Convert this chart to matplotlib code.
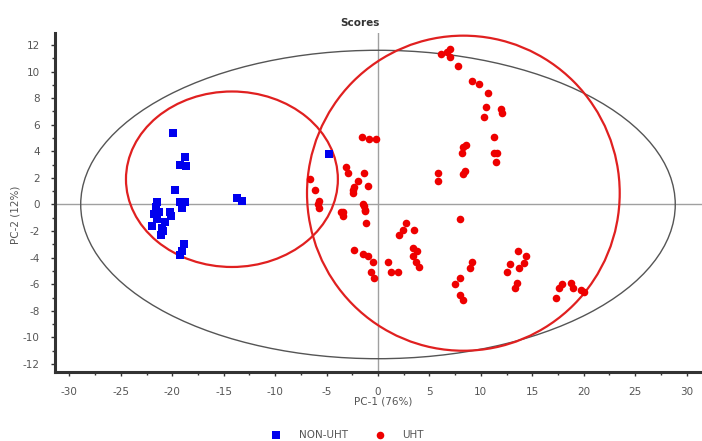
import numpy as np
import matplotlib
matplotlib.use('Agg')
import matplotlib.pyplot as plt
from matplotlib.patches import Ellipse
from matplotlib.ticker import MultipleLocator

plt.rcParams['axes.unicode_minus'] = False

# scores, NON-UHT
non_uht_pc1 = [-19.9, -18.8, -19.2, -18.7, -19.7, -13.7, -13.2, -4.8, -21.5, -19.2,
               -18.8, -21.6, -21.8, -21.3, -20.2, -20.1, -19.1, -22.0, -21.0, -20.9,
               -21.1, -18.9, -19.1, -19.2, -20.7, -21.5]
non_uht_pc2 = [5.4, 3.6, 3.0, 2.9, 1.1, 0.5, 0.3, 3.8, 0.2, 0.2,
               0.2, -0.2, -0.75, -0.6, -0.6, -0.9, -0.3, -1.6, -1.75, -2.0,
               -2.3, -3.0, -3.5, -3.8, -1.3, -1.1]

# scores, UHT
uht_pc1 = [6.15, 6.7, 7.0, 7.0, 7.8, 9.1, 9.8, 10.7, 10.5, 10.3,
           12.0, 12.1, 11.25, 11.25, 11.6, 11.5, 8.55, 8.3, 8.2, 8.45,
           8.3, 5.8, 5.8, -1.6, -0.9, -0.2, -3.1, -2.9, -1.4, -1.9,
           -2.3, -2.4, -1.0, -1.4, -1.3, -6.6, -6.1, -5.7, -3.4, -2.4,
           -5.8, -5.7, -3.6, -3.4, -2.3, -1.45, -1.3, -1.15, -1.45, -1.0,
           -0.5, -0.7, -0.4, 8.0, 2.7, 2.4, 2.05, 3.5, 3.4, 3.8,
           3.4, 3.7, 3.95, 0.95, 1.25, 1.9, 9.1, 8.9, 8.0, 7.5,
           8.0, 8.3, 12.8, 12.5, 13.6, 14.4, 14.2, 13.75, 13.5, 13.3,
           17.3, 17.6, 17.9, 18.75, 19.0, 19.7, 20.0]
uht_pc2 = [11.3, 11.5, 11.7, 11.1, 10.4, 9.3, 9.1, 8.4, 7.3, 6.6,
           7.2, 6.9, 5.1, 3.9, 3.85, 3.2, 4.5, 4.3, 3.9, 2.5,
           2.3, 2.4, 1.75, 5.1, 4.9, 4.9, 2.8, 2.4, 2.4, 1.75,
           1.3, 0.9, 1.4, -0.15, -0.5, 1.9, 1.1, 0.25, -0.6, 1.1,
           0.0, -0.25, -0.6, -0.9, -3.4, 0.0, -0.4, -1.4, -3.7, -3.9,
           -4.3, -5.1, -5.5, -1.1, -1.4, -1.9, -2.3, -1.9, -3.3, -3.5,
           -3.9, -4.3, -4.7, -4.3, -5.05, -5.05, -4.3, -4.8, -5.5, -6.0,
           -6.8, -7.2, -4.5, -5.1, -3.5, -3.9, -4.4, -4.8, -5.9, -6.3,
           -7.0, -6.3, -6.0, -5.9, -6.3, -6.4, -6.6]

# Hotelling ellipse and group circles: (centre x, centre y, width, height)
hotelling = (0.0, 0.0, 57.8, 23.2)
group_non_uht = (-14.2, 1.9, 20.6, 13.2)
group_uht = (8.3, 0.85, 30.4, 23.7)

fig = plt.figure(figsize=(7.02, 4.41), dpi=100)
ax = fig.add_axes([55 / 702, 1 - 372 / 441, 647 / 702, 339 / 441])

ax.axhline(0, color='#a0a0a0', lw=1.0, zorder=1)
ax.axvline(0, color='#a0a0a0', lw=1.0, zorder=1)

cx, cy, w, h = hotelling
ax.add_patch(Ellipse((cx, cy), w, h, fill=False, ec='#555555', lw=1.0, zorder=2))
for cx, cy, w, h in (group_non_uht, group_uht):
    ax.add_patch(Ellipse((cx, cy), w, h, fill=False, ec='#e02020', lw=1.6, zorder=2))

ax.scatter(non_uht_pc1, non_uht_pc2, marker='s', s=30, c='#0000ee', lw=0,
           zorder=3, label='NON-UHT')
ax.scatter(uht_pc1, uht_pc2, marker='o', s=30, c='#ee0000', lw=0,
           zorder=3, label='UHT')

ax.set_xlim(-31.4, 31.5)
ax.set_ylim(-12.6, 12.9)
ax.xaxis.set_major_locator(MultipleLocator(5))
ax.xaxis.set_minor_locator(MultipleLocator(2.5))
ax.yaxis.set_major_locator(MultipleLocator(2))
ax.yaxis.set_minor_locator(MultipleLocator(1))

for side in ('top', 'right'):
    ax.spines[side].set_visible(False)
for side in ('left', 'bottom'):
    ax.spines[side].set_linewidth(2.2)
    ax.spines[side].set_color('#333333')

ax.tick_params(which='major', direction='out', length=3, width=1, color='#333333',
               labelsize=7.5, labelcolor='#555555', pad=8)
ax.tick_params(which='minor', direction='out', length=2, width=1, color='#333333')

fig.text(383 / 702, 1 - 402 / 441, 'PC-1 (76%)', ha='center', va='center',
         fontsize=7.5, color='#555555')
fig.text(15 / 702, 1 - 215 / 441, 'PC-2 (12%)', ha='center', va='center',
         rotation=90, fontsize=7.5, color='#555555')
fig.text(360 / 702, 1 - 23 / 441, 'Scores', ha='center', va='center',
         fontsize=7.5, fontweight='bold', color='#333333')

fig.legend(loc='center', bbox_to_anchor=(345 / 702, 1 - 435 / 441), ncol=2,
           frameon=False, fontsize=7.5, labelcolor='#555555', handletextpad=1.2,
           columnspacing=2.0, markerscale=1.0)

fig.savefig('out.png', dpi=100)
